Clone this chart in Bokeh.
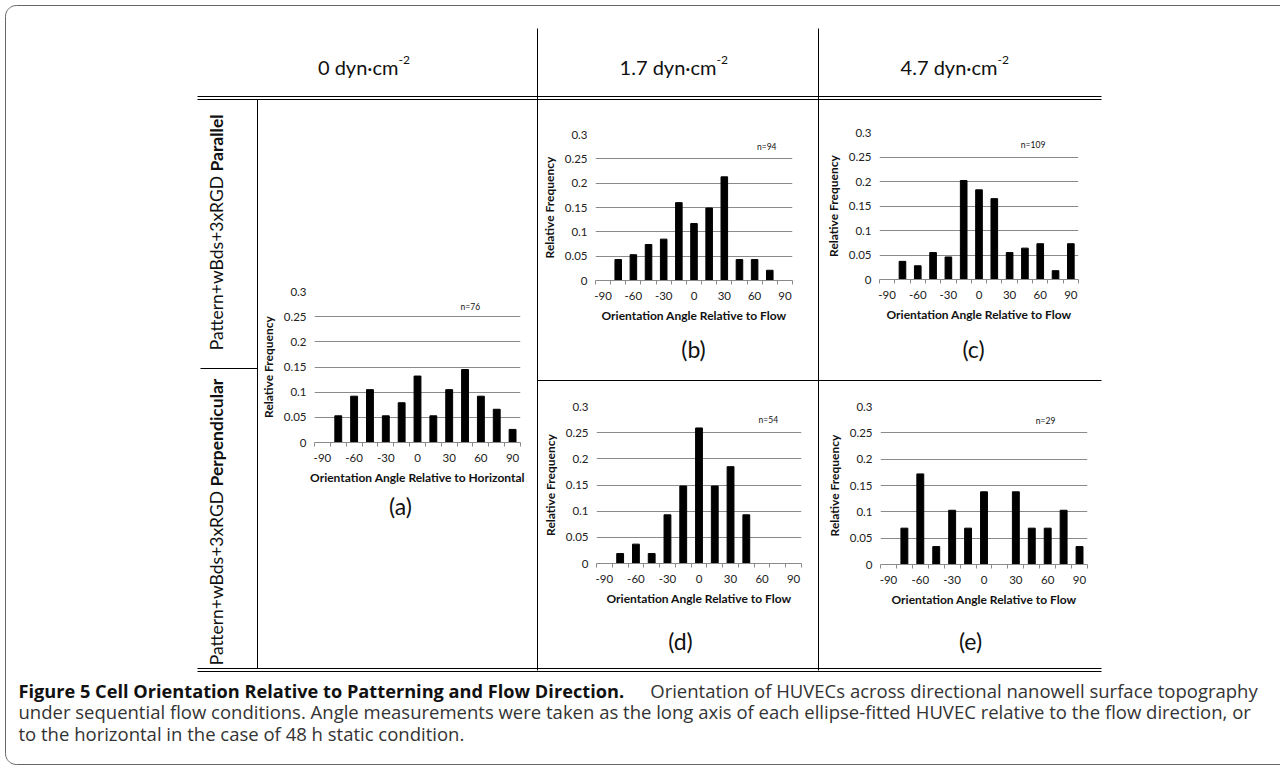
import numpy as np
from bokeh.plotting import figure
from bokeh.models import (Range1d, FixedTicker, NumeralTickFormatter, CustomJSTickFormatter, Label,
                          ColumnDataSource)
from bokeh.embed import file_html
from bokeh.resources import INLINE

# ---------------- data ----------------
angles = [-90, -75, -60, -45, -30, -15, 0, 15, 30, 45, 60, 75, 90]
freq_a = [0, 0.053, 0.092, 0.105, 0.053, 0.079, 0.132, 0.053, 0.105, 0.145, 0.092, 0.066, 0.026]
freq_b = [0, 0.043, 0.053, 0.074, 0.085, 0.160, 0.117, 0.149, 0.213, 0.043, 0.043, 0.021, 0]
freq_c = [0, 0.037, 0.028, 0.055, 0.046, 0.202, 0.183, 0.165, 0.055, 0.064, 0.073, 0.018, 0.073]
freq_d = [0, 0.019, 0.037, 0.019, 0.093, 0.148, 0.259, 0.148, 0.185, 0.093, 0, 0, 0]
freq_e = [0, 0.069, 0.172, 0.034, 0.103, 0.069, 0.138, 0, 0.138, 0.069, 0.069, 0.103, 0.034]

x_tick_labels = [-90, -60, -30, 0, 30, 60, 90]
y_ticks = [0, 0.05, 0.1, 0.15, 0.2, 0.25, 0.3]
n_labels = ["n=76", "n=94", "n=109", "n=54", "n=29"]
panel_letters = ["(a)", "(b)", "(c)", "(d)", "(e)"]
x_titles = ["Orientation Angle Relative to Horizontal", "Orientation Angle Relative to Flow",
            "Orientation Angle Relative to Flow", "Orientation Angle Relative to Flow",
            "Orientation Angle Relative to Flow"]
y_title = "Relative Frequency"
headers = ["0 dyn·cm", "1.7 dyn·cm", "4.7 dyn·cm"]
header_sup = "-2"
row_regular = "Pattern+wBds+3xRGD "
row_bold = ["Parallel", "Perpendicular"]
caption_bold = "Figure 5 Cell Orientation Relative to Patterning and Flow Direction."
caption_lines = [" Orientation of HUVECs across directional nanowell surface topography",
                 "under sequential flow conditions. Angle measurements were taken as the long axis of each ellipse-fitted HUVEC relative to the flow direction, or",
                 "to the horizontal in the case of 48 h static condition."]

# ---------------- style ----------------
GRID = "#8a8a8a"
FONT = "Lato"
CAP_FONT = "Open Sans"
PL, PR, PT, PB = 72, 12, 10, 56

# ---------------- background page (absolutely placed at the page origin) ----------------
W, H = 1280, 768
bg = figure(width=W, height=H, x_range=Range1d(0, W), y_range=Range1d(H, 0),
            output_backend="svg", toolbar_location=None, min_border=0,
            x_axis_location=None, y_axis_location=None, outline_line_color=None,
            styles={"position": "absolute", "left": "0px", "top": "0px"})
bg.grid.visible = False

# rounded outer border
r = 11
t = np.linspace(0, np.pi / 2, 12)
bx = [W] + list(5 + r - r * np.sin(t)) + list(5 + r - r * np.cos(t)) + [W]
by = [5] + list(5 + r - r * np.cos(t)) + list(764 - r + r * np.sin(t)) + [764]
bg.line(bx, by, line_color="#666666", line_width=1)

# table lines
def seg(x0, y0, x1, y1, w=1):
    bg.segment(x0=[x0], y0=[y0], x1=[x1], y1=[y1], line_color="black", line_width=w)

seg(537, 28, 537, 670)
seg(818, 28, 818, 670)
seg(197, 96, 1101, 96)
seg(197, 99, 1101, 99)
seg(197, 668, 1101, 668)
seg(197, 671, 1101, 671)
seg(257, 99, 257, 668)
seg(200, 368, 257, 368)
seg(537, 380, 1101, 380)

# headers
for txt, x0 in zip(headers, [398, 716, 997]):
    bg.add_layout(Label(x=x0, y=66, text=txt, text_align="right", text_baseline="middle",
                        text_font=FONT, text_font_size="20px", text_color="#111111"))
    bg.add_layout(Label(x=x0, y=59, text=header_sup, text_align="left", text_baseline="middle",
                        text_font=FONT, text_font_size="12px", text_color="#111111"))

# row labels (rotated)
for bold, y0, cx in zip(row_bold, [171, 486], [216, 216]):
    bg.add_layout(Label(x=cx, y=y0, text=row_regular, angle=np.pi / 2, text_align="right",
                        text_baseline="middle", text_font=FONT, text_font_size="17.5px", text_color="#111111"))
    bg.add_layout(Label(x=cx, y=y0, text=bold, angle=np.pi / 2, text_align="left",
                        text_baseline="middle", text_font=FONT, text_font_size="17.5px",
                        text_font_style="bold", text_color="#111111"))

# panel letters
for txt, (lx, ly) in zip(panel_letters, [(400, 505), (693, 348), (973, 348), (680, 640), (970, 640)]):
    bg.add_layout(Label(x=lx, y=ly, text=txt, text_align="center", text_baseline="middle",
                        text_font=FONT, text_font_size="23px", text_color="#111111"))

# caption
CAP = "18.5px"
bg.add_layout(Label(x=18, y=690, text=caption_bold, text_align="left", text_baseline="middle",
                    text_font=CAP_FONT, text_font_size="18.2px", text_font_style="bold", text_color="#111111"))
bg.add_layout(Label(x=1262, y=690, text=caption_lines[0], text_align="right", text_baseline="middle",
                    text_font=CAP_FONT, text_font_size=CAP, text_color="#333333"))
bg.add_layout(Label(x=18, y=711, text=caption_lines[1], text_align="left", text_baseline="middle",
                    text_font=CAP_FONT, text_font_size=CAP, text_color="#333333"))
bg.add_layout(Label(x=18, y=733, text=caption_lines[2], text_align="left", text_baseline="middle",
                    text_font=CAP_FONT, text_font_size=CAP, text_color="#333333"))

# ---------------- histograms ----------------
x_bounds = [a - 7.5 for a in angles] + [angles[-1] + 7.5]

def hist(freq, frame, n_text, n_xy, xtitle):
    fl, fr, ft, fb = frame
    w = (fr - fl) + PL + PR
    h = (fb - ft) + PT + PB
    p = figure(width=w, height=h, x_range=Range1d(x_bounds[0], x_bounds[-1]), y_range=Range1d(0, 0.3),
               output_backend="svg", toolbar_location=None,
               min_border_left=PL, min_border_right=PR, min_border_top=PT, min_border_bottom=PB,
               background_fill_alpha=0, border_fill_alpha=0, outline_line_color=None,
               styles={"position": "absolute", "left": f"{fl - PL}px", "top": f"{ft - PT}px"})
    src = ColumnDataSource(dict(angle=angles, freq=freq))
    p.vbar(x="angle", top="freq", width=6.5, source=src, fill_color="black", line_color="black")
    p.xgrid.visible = False
    p.ygrid.grid_line_color = GRID
    p.ygrid.grid_line_width = 1

    xa = p.xaxis[0]
    xa.ticker = FixedTicker(ticks=x_tick_labels, minor_ticks=x_bounds)
    xa.formatter = CustomJSTickFormatter(code="return String(tick)")
    xa.major_tick_line_color = None
    xa.major_tick_out = 4
    xa.major_tick_in = 0
    xa.minor_tick_line_color = GRID
    xa.minor_tick_out = 4
    xa.minor_tick_in = 0
    xa.axis_line_color = GRID
    xa.major_label_standoff = 7
    xa.major_label_text_font = FONT
    xa.major_label_text_font_size = "11.5px"
    xa.major_label_text_color = "#222222"
    xa.axis_label = xtitle
    xa.axis_label_text_font = FONT
    xa.axis_label_text_font_size = "12px"
    xa.axis_label_text_font_style = "bold"
    xa.axis_label_text_color = "#111111"
    xa.axis_label_standoff = 5

    ya = p.yaxis[0]
    ya.ticker = FixedTicker(ticks=y_ticks)
    ya.formatter = NumeralTickFormatter(format="0.[00]")
    ya.axis_line_color = None
    ya.major_tick_line_color = None
    ya.minor_tick_line_color = None
    ya.major_tick_out = 0
    ya.major_tick_in = 0
    ya.minor_tick_out = 0
    ya.major_label_standoff = 8
    ya.major_label_text_font = FONT
    ya.major_label_text_font_size = "11.5px"
    ya.major_label_text_color = "#222222"
    ya.axis_label = y_title
    ya.axis_label_text_font = FONT
    ya.axis_label_text_font_size = "12px"
    ya.axis_label_text_font_style = "bold"
    ya.axis_label_text_color = "#111111"
    ya.axis_label_standoff = 5

    p.add_layout(Label(x=n_xy[0], y=n_xy[1], text=n_text, text_align="center", text_baseline="middle",
                       text_font=FONT, text_font_size="8.5px", text_color="#111111"))
    return p

frames = [(314, 520, 291, 442), (595, 792, 134, 280), (879, 1078, 132, 279),
          (596, 801, 406, 563), (880, 1087, 406, 564)]
n_pos = [(50, 0.27), (72, 0.275), (53, 0.275), (66, 0.275), (58, 0.272)]
freqs = [freq_a, freq_b, freq_c, freq_d, freq_e]

plots = [hist(f, fr, n, npos, xt) for f, fr, n, npos, xt in zip(freqs, frames, n_labels, n_pos, x_titles)]

p = [bg] + plots
open("out.html", "w").write(file_html(p, INLINE))
